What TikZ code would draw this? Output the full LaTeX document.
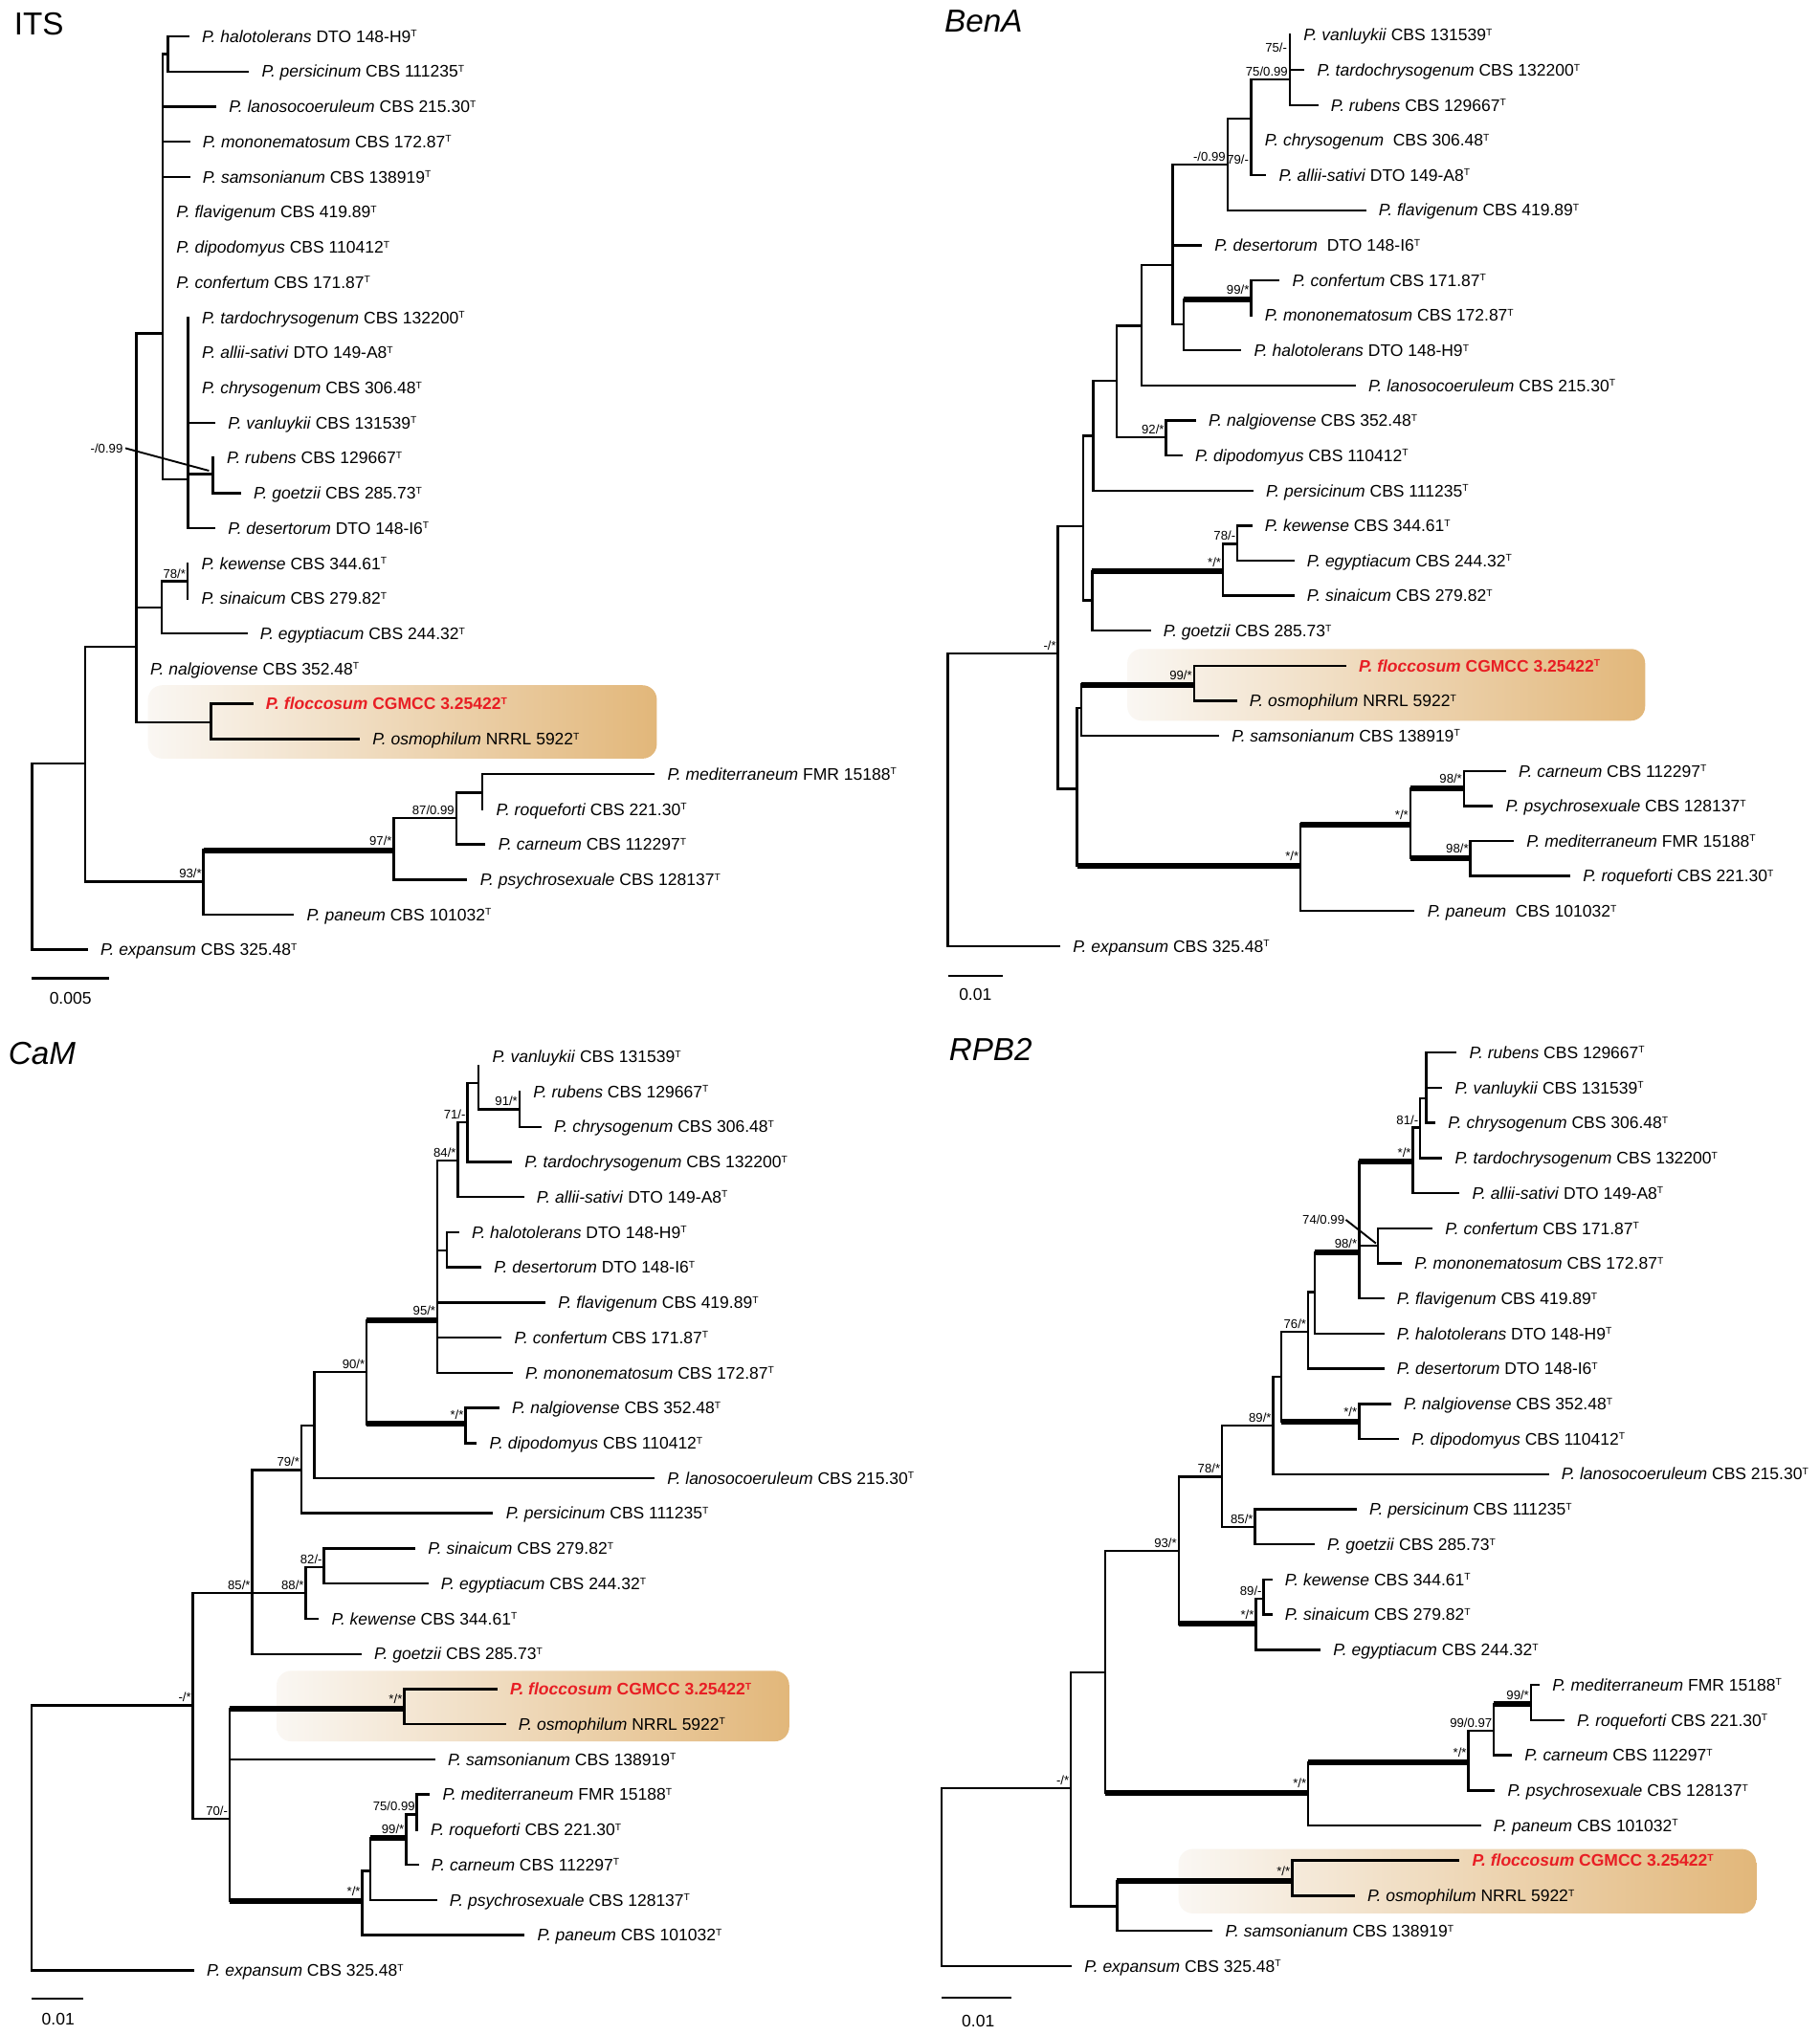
\documentclass[tikz,border=0pt]{standalone}
\usepackage{fontspec}
\setmainfont{Liberation Sans}
\usetikzlibrary{calc}
\definecolor{flred}{RGB}{232,30,36}
\definecolor{boxL}{RGB}{250,247,243}
\definecolor{boxR}{RGB}{226,183,122}
\newcommand\lf{\fontsize{12.9}{14}\selectfont}
\newcommand\tsup{\raisebox{4pt}{\fontsize{7.6}{8}\selectfont T}}
\newcommand\spn[2]{\textit{P.~#1} #2\tsup}
\newcommand\spr{\textbf{\textit{P.~floccosum} CGMCC 3.25422\tsup}}
\newcommand\tbr[2]{\draw[brs] (#1) |- (#2);}
\newcommand\tbk[2]{\draw[brs] (#1) |- (#2);\draw[brk] (#1 |- #2) -- (#2);}
\tikzset{
 leaf/.style={anchor=west, inner xsep=10.7pt, inner ysep=0pt, outer sep=0pt, text height=9.2pt, text depth=0pt, font=\lf},
 redleaf/.style={leaf, text=flred},
 bootbase/.style={anchor=base east, inner sep=0pt, outer sep=0pt, font=\fontsize{9.7}{10}\selectfont},
 boot/.style={bootbase, xshift=-1.5pt, yshift=2.7pt},
 bootk/.style={bootbase, xshift=-1.5pt, yshift=3.9pt},
 brs/.style={line width=1.8pt, line cap=rect, line join=miter},
 brk/.style={line width=4.4pt, line cap=butt},
 ptr/.style={line width=1.4pt},
 title/.style={anchor=base west, inner sep=0pt, outer sep=0pt, font=\fontsize{24.5}{26}\selectfont},
 scl/.style={anchor=center, inner sep=0pt, font=\lf},
 hbox/.style={left color=boxL, right color=boxR, rounded corners=11pt},
}
\begin{document}
\begin{tikzpicture}[x=1pt,y=-1pt]
\fill[white] (0,0) rectangle (1402,1568);
\useasboundingbox (0,0) rectangle (1402,1568);

% highlight boxes
\shade[hbox] (114,528) rectangle (506,584.5);
\shade[hbox] (868.5,500) rectangle (1267.4,555.3);
\shade[hbox] (213.2,1287.4) rectangle (608,1341.7);
\shade[hbox] (908,1424.7) rectangle (1353,1474.3);

% ================= ITS =================
\node[title] (its-t0) at (11,27) {ITS};
\coordinate (its-r) at (24.6,588.4);
\coordinate (its-H) at (65.8,588.4);
\coordinate (its-D) at (105.2,498.3);
\coordinate (its-A) at (125.3,257);
\coordinate (its-N) at (129.5,41.6);
\coordinate (its-B) at (145,369.5);
\coordinate (its-C) at (164.1,365.4);
\coordinate (its-E) at (124.6,468.1);
\coordinate (its-F) at (144.5,448);
\coordinate (its-G) at (162.7,556.5);
\coordinate (its-I) at (156.8,679.3);
\coordinate (its-J) at (303.4,655);
\coordinate (its-K) at (351.5,630.2);
\coordinate (its-L) at (371.6,610.6);
\node[leaf] (its-halo) at (145,28) {\spn{halotolerans}{DTO 148-H9}};
\node[leaf] (its-pers) at (191,55.1) {\spn{persicinum}{CBS 111235}};
\node[leaf] (its-lano) at (165.8,82.1) {\spn{lanosocoeruleum}{CBS 215.30}};
\node[leaf] (its-mono) at (145.5,109.2) {\spn{mononematosum}{CBS 172.87}};
\node[leaf] (its-sams) at (145.5,136.3) {\spn{samsonianum}{CBS 138919}};
\node[leaf] (its-flav) at (125.3,163.4) {\spn{flavigenum}{CBS 419.89}};
\node[leaf] (its-dipo) at (125.3,190.4) {\spn{dipodomyus}{CBS 110412}};
\node[leaf] (its-conf) at (125.3,217.5) {\spn{confertum}{CBS 171.87}};
\node[leaf] (its-tard) at (145,244.6) {\spn{tardochrysogenum}{CBS 132200}};
\node[leaf] (its-alli) at (145,271.6) {\spn{allii-sativi}{DTO 149-A8}};
\node[leaf] (its-chry) at (145,298.7) {\spn{chrysogenum}{CBS 306.48}};
\node[leaf] (its-vanl) at (165,325.8) {\spn{vanluykii}{CBS 131539}};
\node[leaf] (its-rube) at (164.1,352.8) {\spn{rubens}{CBS 129667}};
\node[leaf] (its-goet) at (184.8,379.9) {\spn{goetzii}{CBS 285.73}};
\node[leaf] (its-dese) at (165,407) {\spn{desertorum}{DTO 148-I6}};
\node[leaf] (its-kewe) at (144.5,434.1) {\spn{kewense}{CBS 344.61}};
\node[leaf] (its-sina) at (144.5,461.1) {\spn{sinaicum}{CBS 279.82}};
\node[leaf] (its-egyp) at (189.7,488.2) {\spn{egyptiacum}{CBS 244.32}};
\node[leaf] (its-nalg) at (105.2,515.3) {\spn{nalgiovense}{CBS 352.48}};
\node[redleaf] (its-floc) at (194.1,542.3) {\spr};
\node[leaf] (its-osmo) at (276.4,569.4) {\spn{osmophilum}{NRRL 5922}};
\node[leaf] (its-medi) at (503.5,596.5) {\spn{mediterraneum}{FMR 15188}};
\node[leaf] (its-roqu) at (371.6,623.5) {\spn{roqueforti}{CBS 221.30}};
\node[leaf] (its-carn) at (373.2,650.6) {\spn{carneum}{CBS 112297}};
\node[leaf] (its-psyc) at (359.2,677.7) {\spn{psychrosexuale}{CBS 128137}};
\node[leaf] (its-pane) at (225.6,704.8) {\spn{paneum}{CBS 101032}};
\node[leaf] (its-expa) at (66.8,731.8) {\spn{expansum}{CBS 325.48}};
\tbr{its-r}{its-H}
\tbr{its-r}{its-expa.west}
\tbr{its-H}{its-D}
\tbr{its-H}{its-I}
\tbr{its-D}{its-A}
\tbr{its-D}{its-E}
\tbr{its-D}{its-nalg.west}
\tbr{its-D}{its-G}
\tbr{its-A}{its-N}
\tbr{its-A}{its-lano.west}
\tbr{its-A}{its-mono.west}
\tbr{its-A}{its-sams.west}
\tbr{its-A}{its-flav.west}
\tbr{its-A}{its-dipo.west}
\tbr{its-A}{its-conf.west}
\tbr{its-A}{its-B}
\tbr{its-N}{its-halo.west}
\tbr{its-N}{its-pers.west}
\tbr{its-B}{its-tard.west}
\tbr{its-B}{its-alli.west}
\tbr{its-B}{its-chry.west}
\tbr{its-B}{its-vanl.west}
\tbr{its-B}{its-C}
\tbr{its-B}{its-dese.west}
\tbr{its-C}{its-rube.west}
\tbr{its-C}{its-goet.west}
\tbr{its-E}{its-F}
\tbr{its-E}{its-egyp.west}
\tbr{its-F}{its-kewe.west}
\tbr{its-F}{its-sina.west}
\tbr{its-G}{its-floc.west}
\tbr{its-G}{its-osmo.west}
\tbk{its-I}{its-J}
\tbr{its-I}{its-pane.west}
\tbr{its-J}{its-K}
\tbr{its-J}{its-psyc.west}
\tbr{its-K}{its-L}
\tbr{its-K}{its-carn.west}
\tbr{its-L}{its-medi.west}
\tbr{its-L}{its-roqu.west}
\node[bootbase] (its-bs1) at (94.6,348.8) {-/0.99};
\coordinate (its-ptr) at (161,362.7);
\draw[ptr] (its-bs1.east) ++(2,0) -- (its-ptr);
\node[boot] (its-bs2) at (its-F) {78/*};
\node[boot] (its-bs3) at (its-I) {93/*};
\node[bootk] (its-bs4) at (its-J) {97/*};
\node[boot] (its-bs5) at (its-K) {87/0.99};
\coordinate (its-s1) at (24.6,753.9);
\coordinate (its-s2) at (84,753.9);
\draw[brs,line cap=butt] (its-s1) -- (its-s2);
\node[scl] (its-sl) at (54.3,769.5) {0.005};

% ================= BenA =================
\node[title] (b-t0) at (727.7,25) {\textit{BenA}};
\coordinate (b-r) at (730.3,503.3);
\coordinate (b-m) at (815.1,503.3);
\coordinate (b-k) at (834.3,405.4);
\coordinate (b-j) at (842.2,335.7);
\coordinate (b-h) at (860.1,293.5);
\coordinate (b-g) at (879.6,250.9);
\coordinate (b-d) at (903.5,204);
\coordinate (b-c) at (945.6,126.9);
\coordinate (b-b) at (963.8,91.6);
\coordinate (b-a) at (993.6,61.1);
\coordinate (b-e) at (912,250.1);
\coordinate (b-f) at (963.8,230.9);
\coordinate (b-i) at (898.3,337);
\coordinate (b-l) at (841.4,462.5);
\coordinate (b-n) at (942.2,440.4);
\coordinate (b-o) at (953.3,419);
\coordinate (b-p) at (829.8,607.7);
\coordinate (b-q) at (833,545.5);
\coordinate (b-s) at (919.8,527.6);
\coordinate (b-rr) at (1002,667.1);
\coordinate (b-t) at (1086.5,635.2);
\coordinate (b-u) at (1127.8,607.5);
\coordinate (b-v) at (1132.8,661);
\node[leaf] (b-vanl) at (993.6,27) {\spn{vanluykii}{CBS 131539}};
\node[leaf] (b-tard) at (1004.1,54) {\spn{tardochrysogenum}{CBS 132200}};
\node[leaf] (b-rube) at (1014.6,81) {\spn{rubens}{CBS 129667}};
\node[leaf] (b-chry) at (963.8,108) {\spn{chrysogenum}{\ CBS 306.48}};
\node[leaf] (b-alli) at (974.6,135) {\spn{allii-sativi}{DTO 149-A8}};
\node[leaf] (b-flav) at (1051.5,162) {\spn{flavigenum}{CBS 419.89}};
\node[leaf] (b-dese) at (925.1,189) {\spn{desertorum}{\ DTO 148-I6}};
\node[leaf] (b-conf) at (984.9,216) {\spn{confertum}{CBS 171.87}};
\node[leaf] (b-mono) at (963.8,243) {\spn{mononematosum}{CBS 172.87}};
\node[leaf] (b-halo) at (955.4,270) {\spn{halotolerans}{DTO 148-H9}};
\node[leaf] (b-lano) at (1043.6,297) {\spn{lanosocoeruleum}{CBS 215.30}};
\node[leaf] (b-nalg) at (920.4,324) {\spn{nalgiovense}{CBS 352.48}};
\node[leaf] (b-dipo) at (910.1,351) {\spn{dipodomyus}{CBS 110412}};
\node[leaf] (b-pers) at (964.6,378) {\spn{persicinum}{CBS 111235}};
\node[leaf] (b-kewe) at (963.8,405) {\spn{kewense}{CBS 344.61}};
\node[leaf] (b-egyp) at (996.2,432) {\spn{egyptiacum}{CBS 244.32}};
\node[leaf] (b-sina) at (996.2,459) {\spn{sinaicum}{CBS 279.82}};
\node[leaf] (b-goet) at (885.6,486) {\spn{goetzii}{CBS 285.73}};
\node[redleaf] (b-floc) at (1036.2,513) {\spr};
\node[leaf] (b-osmo) at (952,540) {\spn{osmophilum}{NRRL 5922}};
\node[leaf] (b-sams) at (938.3,567) {\spn{samsonianum}{CBS 138919}};
\node[leaf] (b-carn) at (1159.3,594) {\spn{carneum}{CBS 112297}};
\node[leaf] (b-psyc) at (1149.3,621) {\spn{psychrosexuale}{CBS 128137}};
\node[leaf] (b-medi) at (1165.3,648) {\spn{mediterraneum}{FMR 15188}};
\node[leaf] (b-roqu) at (1208.9,675) {\spn{roqueforti}{CBS 221.30}};
\node[leaf] (b-pane) at (1089,702) {\spn{paneum}{\ CBS 101032}};
\node[leaf] (b-expa) at (815.9,729) {\spn{expansum}{CBS 325.48}};
\tbr{b-r}{b-m}
\tbr{b-r}{b-expa.west}
\tbr{b-m}{b-k}
\tbr{b-m}{b-p}
\tbr{b-k}{b-j}
\tbr{b-k}{b-l}
\tbr{b-j}{b-h}
\tbr{b-j}{b-pers.west}
\tbr{b-h}{b-g}
\tbr{b-h}{b-i}
\tbr{b-g}{b-d}
\tbr{b-g}{b-lano.west}
\tbr{b-d}{b-c}
\tbr{b-d}{b-dese.west}
\tbr{b-d}{b-e}
\tbr{b-c}{b-b}
\tbr{b-c}{b-flav.west}
\tbr{b-b}{b-a}
\tbr{b-b}{b-chry.west}
\tbr{b-b}{b-alli.west}
\tbr{b-a}{b-vanl.west}
\tbr{b-a}{b-tard.west}
\tbr{b-a}{b-rube.west}
\tbk{b-e}{b-f}
\tbr{b-e}{b-halo.west}
\tbr{b-f}{b-conf.west}
\tbr{b-f}{b-mono.west}
\tbr{b-i}{b-nalg.west}
\tbr{b-i}{b-dipo.west}
\tbk{b-l}{b-n}
\tbr{b-l}{b-goet.west}
\tbr{b-n}{b-o}
\tbr{b-n}{b-sina.west}
\tbr{b-o}{b-kewe.west}
\tbr{b-o}{b-egyp.west}
\tbr{b-p}{b-q}
\tbk{b-p}{b-rr}
\tbk{b-q}{b-s}
\tbr{b-q}{b-sams.west}
\tbr{b-s}{b-floc.west}
\tbr{b-s}{b-osmo.west}
\tbk{b-rr}{b-t}
\tbr{b-rr}{b-pane.west}
\tbk{b-t}{b-u}
\tbk{b-t}{b-v}
\tbr{b-u}{b-carn.west}
\tbr{b-u}{b-psyc.west}
\tbr{b-v}{b-medi.west}
\tbr{b-v}{b-roqu.west}
\node[bootbase] (b-bs1) at (991.5,40.5) {75/-};
\node[boot] (b-bs2) at (b-a) {75/0.99};
\node[bootbase] (b-bs3) at (962,126.5) {79/-};
\node[boot] (b-bs4) at (b-c) {-/0.99};
\node[bootk] (b-bs5) at (b-f) {99/*};
\node[boot] (b-bs6) at (b-i) {92/*};
\node[boot] (b-bs7) at (b-o) {78/-};
\node[bootk] (b-bs8) at (b-n) {*/*};
\node[boot] (b-bs9) at (b-m) {-/*};
\node[bootk] (b-bs10) at (b-s) {99/*};
\node[bootk] (b-bs11) at (b-rr) {*/*};
\node[bootk] (b-bs12) at (b-t) {*/*};
\node[bootk] (b-bs13) at (b-u) {98/*};
\node[bootk] (b-bs14) at (b-v) {98/*};
\coordinate (b-s1) at (730.3,751.9);
\coordinate (b-s2) at (772.4,751.9);
\draw[brs,line cap=butt] (b-s1) -- (b-s2);
\node[scl] (b-sl) at (751.4,766.5) {0.01};

% ================= CaM =================
\node[title] (c-t0) at (6.6,820.4) {\textit{CaM}};
\coordinate (c-r) at (24.5,1313.9);
\coordinate (c-m) at (148.7,1313.9);
\coordinate (c-k) at (194.3,1227.5);
\coordinate (c-j) at (232.2,1132.7);
\coordinate (c-i) at (242.2,1098.4);
\coordinate (c-g) at (282.5,1057);
\coordinate (c-e) at (337,1017.2);
\coordinate (c-d) at (352.8,894.1);
\coordinate (c-c) at (360.1,864.9);
\coordinate (c-a) at (368.6,834.4);
\coordinate (c-vtip) at (368.6,821.7);
\coordinate (c-b) at (400.2,854.7);
\coordinate (c-f) at (344.3,963.4);
\coordinate (c-h) at (358.6,1097.2);
\coordinate (c-l) at (235.6,1227.5);
\coordinate (c-n) at (249.6,1207.3);
\coordinate (c-o) at (176.9,1401.2);
\coordinate (c-p) at (311.4,1316.4);
\coordinate (c-q) at (279.1,1464.9);
\coordinate (c-rr) at (285.1,1441.6);
\coordinate (c-s) at (312.8,1416.4);
\coordinate (c-t) at (321.2,1398);
\node[leaf] (c-vanl) at (368.6,814) {\spn{vanluykii}{CBS 131539}};
\node[leaf] (c-rube) at (400.2,841.1) {\spn{rubens}{CBS 129667}};
\node[leaf] (c-chry) at (416.3,868.2) {\spn{chrysogenum}{CBS 306.48}};
\node[leaf] (c-tard) at (393.6,895.2) {\spn{tardochrysogenum}{CBS 132200}};
\node[leaf] (c-alli) at (402.8,922.3) {\spn{allii-sativi}{DTO 149-A8}};
\node[leaf] (c-halo) at (352.8,949.4) {\spn{halotolerans}{DTO 148-H9}};
\node[leaf] (c-dese) at (369.9,976.5) {\spn{desertorum}{DTO 148-I6}};
\node[leaf] (c-flav) at (419.3,1003.6) {\spn{flavigenum}{CBS 419.89}};
\node[leaf] (c-conf) at (385.7,1030.6) {\spn{confertum}{CBS 171.87}};
\node[leaf] (c-mono) at (394.1,1057.7) {\spn{mononematosum}{CBS 172.87}};
\node[leaf] (c-nalg) at (383.8,1084.8) {\spn{nalgiovense}{CBS 352.48}};
\node[leaf] (c-dipo) at (366.5,1111.9) {\spn{dipodomyus}{CBS 110412}};
\node[leaf] (c-lano) at (503.3,1139) {\spn{lanosocoeruleum}{CBS 215.30}};
\node[leaf] (c-pers) at (379.1,1166) {\spn{persicinum}{CBS 111235}};
\node[leaf] (c-sina) at (319.1,1193.1) {\spn{sinaicum}{CBS 279.82}};
\node[leaf] (c-egyp) at (329.1,1220.2) {\spn{egyptiacum}{CBS 244.32}};
\node[leaf] (c-kewe) at (244.8,1247.3) {\spn{kewense}{CBS 344.61}};
\node[leaf] (c-goet) at (277.7,1274.4) {\spn{goetzii}{CBS 285.73}};
\node[redleaf] (c-floc) at (382.3,1301.4) {\spr};
\node[leaf] (c-osmo) at (388.8,1328.5) {\spn{osmophilum}{NRRL 5922}};
\node[leaf] (c-sams) at (334.3,1355.6) {\spn{samsonianum}{CBS 138919}};
\node[leaf] (c-medi) at (330.4,1382.7) {\spn{mediterraneum}{FMR 15188}};
\node[leaf] (c-roqu) at (321.2,1409.8) {\spn{roqueforti}{CBS 221.30}};
\node[leaf] (c-carn) at (321.7,1436.8) {\spn{carneum}{CBS 112297}};
\node[leaf] (c-psyc) at (335.7,1463.9) {\spn{psychrosexuale}{CBS 128137}};
\node[leaf] (c-pane) at (403.3,1491) {\spn{paneum}{CBS 101032}};
\node[leaf] (c-expa) at (148.7,1518.1) {\spn{expansum}{CBS 325.48}};
\tbr{c-r}{c-m}
\tbr{c-r}{c-expa.west}
\tbr{c-m}{c-k}
\tbr{c-m}{c-o}
\tbr{c-k}{c-j}
\tbr{c-k}{c-l}
\tbr{c-k}{c-goet.west}
\tbr{c-j}{c-i}
\tbr{c-j}{c-pers.west}
\tbr{c-i}{c-g}
\tbr{c-i}{c-lano.west}
\tbk{c-g}{c-e}
\tbk{c-g}{c-h}
\tbr{c-e}{c-d}
\tbr{c-e}{c-f}
\tbr{c-e}{c-flav.west}
\tbr{c-e}{c-conf.west}
\tbr{c-e}{c-mono.west}
\tbr{c-d}{c-c}
\tbr{c-d}{c-alli.west}
\tbr{c-c}{c-a}
\tbr{c-c}{c-tard.west}
\tbr{c-a}{c-vtip}
\tbr{c-a}{c-b}
\tbr{c-b}{c-rube.west}
\tbr{c-b}{c-chry.west}
\tbr{c-f}{c-halo.west}
\tbr{c-f}{c-dese.west}
\tbr{c-h}{c-nalg.west}
\tbr{c-h}{c-dipo.west}
\tbr{c-l}{c-n}
\tbr{c-l}{c-kewe.west}
\tbr{c-n}{c-sina.west}
\tbr{c-n}{c-egyp.west}
\tbk{c-o}{c-p}
\tbr{c-o}{c-sams.west}
\tbk{c-o}{c-q}
\tbr{c-p}{c-floc.west}
\tbr{c-p}{c-osmo.west}
\tbr{c-q}{c-rr}
\tbr{c-q}{c-pane.west}
\tbk{c-rr}{c-s}
\tbr{c-rr}{c-psyc.west}
\tbr{c-s}{c-t}
\tbr{c-s}{c-carn.west}
\tbr{c-t}{c-medi.west}
\tbr{c-t}{c-roqu.west}
\node[boot] (c-bs1) at (c-b) {91/*};
\node[boot] (c-bs2) at (c-c) {71/-};
\node[boot] (c-bs3) at (c-d) {84/*};
\node[bootk] (c-bs4) at (c-e) {95/*};
\node[boot] (c-bs5) at (c-g) {90/*};
\node[bootk] (c-bs6) at (c-h) {*/*};
\node[boot] (c-bs7) at (c-j) {79/*};
\node[boot] (c-bs8) at (c-n) {82/-};
\node[boot] (c-bs9) at (c-l) {88/*};
\node[boot] (c-bs10) at (c-k) {85/*};
\node[boot] (c-bs11) at (c-m) {-/*};
\node[boot] (c-bs12) at (c-o) {70/-};
\node[bootk] (c-bs13) at (c-p) {*/*};
\node[boot] (c-bs14) at (c-t) {75/0.99};
\node[bootk] (c-bs15) at (c-s) {99/*};
\node[bootk] (c-bs16) at (c-q) {*/*};
\coordinate (c-s1) at (24.5,1540.1);
\coordinate (c-s2) at (64.5,1540.1);
\draw[brs,line cap=butt] (c-s1) -- (c-s2);
\node[scl] (c-sl) at (44.8,1555.7) {0.01};

% ================= RPB2 =================
\node[title] (r-t0) at (731.1,817.1) {\textit{RPB2}};
\coordinate (r-r) at (725.5,1377.6);
\coordinate (r-q) at (825.1,1377.6);
\coordinate (r-o) at (851.5,1288.4);
\coordinate (r-m) at (908,1194.8);
\coordinate (r-k) at (941.5,1137.7);
\coordinate (r-j) at (980.9,1098.4);
\coordinate (r-h) at (987.1,1060.7);
\coordinate (r-g) at (1007.8,1026);
\coordinate (r-f) at (1012.8,995.5);
\coordinate (r-d) at (1047,965.3);
\coordinate (r-c) at (1088.5,895.2);
\coordinate (r-b) at (1094.1,868.9);
\coordinate (r-a) at (1098.7,846.1);
\coordinate (r-e) at (1061.5,959.9);
\coordinate (r-i) at (1047,1095.1);
\coordinate (r-l) at (966.9,1176.5);
\coordinate (r-n) at (967.5,1251.3);
\coordinate (r-p) at (973.5,1231.9);
\coordinate (r-rr) at (1007.9,1381.3);
\coordinate (r-s) at (1131.3,1357.8);
\coordinate (r-t) at (1150.9,1333.5);
\coordinate (r-u) at (1179.4,1313.2);
\coordinate (r-v) at (860.5,1468.8);
\coordinate (r-w) at (995.4,1449.5);
\node[leaf] (r-rube) at (1121.4,811) {\spn{rubens}{CBS 129667}};
\node[leaf] (r-vanl) at (1110.2,838.1) {\spn{vanluykii}{CBS 131539}};
\node[leaf] (r-chry) at (1105,865.1) {\spn{chrysogenum}{CBS 306.48}};
\node[leaf] (r-tard) at (1110.2,892.2) {\spn{tardochrysogenum}{CBS 132200}};
\node[leaf] (r-alli) at (1123.6,919.3) {\spn{allii-sativi}{DTO 149-A8}};
\node[leaf] (r-conf) at (1102.8,946.4) {\spn{confertum}{CBS 171.87}};
\node[leaf] (r-mono) at (1079.2,973.4) {\spn{mononematosum}{CBS 172.87}};
\node[leaf] (r-flav) at (1065.5,1000.5) {\spn{flavigenum}{CBS 419.89}};
\node[leaf] (r-halo) at (1065.5,1027.6) {\spn{halotolerans}{DTO 148-H9}};
\node[leaf] (r-dese) at (1065.5,1054.6) {\spn{desertorum}{DTO 148-I6}};
\node[leaf] (r-nalg) at (1070.8,1081.7) {\spn{nalgiovense}{CBS 352.48}};
\node[leaf] (r-dipo) at (1077,1108.8) {\spn{dipodomyus}{CBS 110412}};
\node[leaf] (r-lano) at (1192.3,1135.8) {\spn{lanosocoeruleum}{CBS 215.30}};
\node[leaf] (r-pers) at (1044.3,1162.9) {\spn{persicinum}{CBS 111235}};
\node[leaf] (r-goet) at (1011.9,1190) {\spn{goetzii}{CBS 285.73}};
\node[leaf] (r-kewe) at (979.3,1217.1) {\spn{kewense}{CBS 344.61}};
\node[leaf] (r-sina) at (979.3,1244.1) {\spn{sinaicum}{CBS 279.82}};
\node[leaf] (r-egyp) at (1016.5,1271.2) {\spn{egyptiacum}{CBS 244.32}};
\node[leaf] (r-medi) at (1185.3,1298.3) {\spn{mediterraneum}{FMR 15188}};
\node[leaf] (r-roqu) at (1204.3,1325.3) {\spn{roqueforti}{CBS 221.30}};
\node[leaf] (r-carn) at (1163.9,1352.4) {\spn{carneum}{CBS 112297}};
\node[leaf] (r-psyc) at (1150.9,1379.5) {\spn{psychrosexuale}{CBS 128137}};
\node[leaf] (r-pane) at (1140,1406.5) {\spn{paneum}{CBS 101032}};
\node[redleaf] (r-floc) at (1123.6,1433.6) {\spr};
\node[leaf] (r-osmo) at (1042.9,1460.7) {\spn{osmophilum}{NRRL 5922}};
\node[leaf] (r-sams) at (933.4,1487.8) {\spn{samsonianum}{CBS 138919}};
\node[leaf] (r-expa) at (824.8,1514.8) {\spn{expansum}{CBS 325.48}};
\tbr{r-r}{r-q}
\tbr{r-r}{r-expa.west}
\tbr{r-q}{r-o}
\tbr{r-q}{r-v}
\tbr{r-o}{r-m}
\tbk{r-o}{r-rr}
\tbr{r-m}{r-k}
\tbk{r-m}{r-n}
\tbr{r-k}{r-j}
\tbr{r-k}{r-l}
\tbr{r-j}{r-h}
\tbr{r-j}{r-lano.west}
\tbr{r-h}{r-g}
\tbk{r-h}{r-i}
\tbr{r-g}{r-f}
\tbr{r-g}{r-dese.west}
\tbk{r-f}{r-d}
\tbr{r-f}{r-halo.west}
\tbk{r-d}{r-c}
\tbr{r-d}{r-e}
\tbr{r-d}{r-flav.west}
\tbr{r-c}{r-b}
\tbr{r-c}{r-alli.west}
\tbr{r-b}{r-a}
\tbr{r-b}{r-tard.west}
\tbr{r-a}{r-rube.west}
\tbr{r-a}{r-vanl.west}
\tbr{r-a}{r-chry.west}
\tbr{r-e}{r-conf.west}
\tbr{r-e}{r-mono.west}
\tbr{r-i}{r-nalg.west}
\tbr{r-i}{r-dipo.west}
\tbr{r-l}{r-pers.west}
\tbr{r-l}{r-goet.west}
\tbr{r-n}{r-p}
\tbr{r-n}{r-egyp.west}
\tbr{r-p}{r-kewe.west}
\tbr{r-p}{r-sina.west}
\tbk{r-rr}{r-s}
\tbr{r-rr}{r-pane.west}
\tbr{r-s}{r-t}
\tbr{r-s}{r-psyc.west}
\tbk{r-t}{r-u}
\tbr{r-t}{r-carn.west}
\tbr{r-u}{r-medi.west}
\tbr{r-u}{r-roqu.west}
\tbk{r-v}{r-w}
\tbr{r-v}{r-sams.west}
\tbr{r-w}{r-floc.west}
\tbr{r-w}{r-osmo.west}
\node[boot] (r-bs1) at (r-b) {81/-};
\node[bootk] (r-bs2) at (r-c) {*/*};
\node[bootk] (r-bs3) at (r-d) {98/*};
\node[bootbase] (r-bs4) at (1035.8,943.3) {74/0.99};
\coordinate (r-ptr) at (1060,958);
\draw[ptr] (r-bs4.east) ++(1,0) -- (r-ptr);
\node[boot] (r-bs5) at (r-g) {76/*};
\node[bootk] (r-bs6) at (r-i) {*/*};
\node[boot] (r-bs7) at (r-j) {89/*};
\node[boot] (r-bs8) at (r-k) {78/*};
\node[boot] (r-bs9) at (r-l) {85/*};
\node[boot] (r-bs10) at (r-m) {93/*};
\node[boot] (r-bs11) at (r-p) {89/-};
\node[bootk] (r-bs12) at (r-n) {*/*};
\node[boot] (r-bs13) at (r-q) {-/*};
\node[bootk] (r-bs14) at (r-rr) {*/*};
\node[bootk] (r-bs15) at (r-s) {*/*};
\node[boot] (r-bs16) at (r-t) {99/0.97};
\node[bootk] (r-bs17) at (r-u) {99/*};
\node[bootk] (r-bs18) at (r-w) {*/*};
\coordinate (r-s1) at (725.5,1539.2);
\coordinate (r-s2) at (779.2,1539.2);
\draw[brs,line cap=butt] (r-s1) -- (r-s2);
\node[scl] (r-sl) at (753.6,1557.3) {0.01};
\end{tikzpicture}
\end{document}
